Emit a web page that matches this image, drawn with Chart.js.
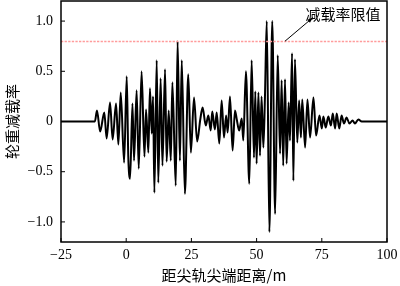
<!DOCTYPE html>
<html>
<head>
<meta charset="utf-8">
<script src="https://cdn.jsdelivr.net/npm/chart.js@4/dist/chart.umd.min.js"></script>
<style>
  html, body { margin: 0; padding: 0; background: #fff; }
  #wrap { width: 400px; height: 286px; }
</style>
</head>
<body>
<div id="wrap"><canvas id="chart" width="400" height="286"></canvas></div>
<script>
// Data
const distance = [
  -25, -12, -11.2, -10.0, -8.4, -7.5, -6.2, -5.2, -3.9, -3.0, -2.1, -0.8, 0.2, 0.8, 1.5,
  2.4, 3.0, 4.0, 4.8, 5.9, 7.0, 7.6, 8.5, 9.1, 9.8, 10.3, 10.8, 11.7, 12.3, 13.2, 13.9,
  14.9, 15.5, 16.3, 17.1, 17.7, 19.0, 19.7, 20.6, 21.3, 22.5, 23.8, 24.8, 26.0, 27.2,
  28.4, 29.3, 30.5, 31.5, 32.4, 33.0, 34.0, 34.7, 35.7, 36.6, 37.5, 38.3, 38.9, 39.8,
  40.8, 41.7, 42.4, 43.3, 44.3, 44.9, 45.9, 47.2, 48.1, 49.0, 49.5, 50.0, 50.7, 51.3,
  51.9, 52.6, 53.2, 53.9, 54.9, 56.0, 57.1, 58.1, 59.0, 59.6, 60.2, 60.9, 61.5, 62.3,
  62.8, 63.6, 64.1, 64.7, 65.6, 66.3, 67.0, 67.5, 68.6, 69.5, 70.5, 71.8, 72.8, 74.1,
  75.0, 75.6, 76.5, 77.5, 78.5, 79.2, 80.1, 80.7, 81.7, 82.6, 83.5, 84.5, 85.6, 86.8,
  87.7, 89.0, 90.3, 100
];
const loadReduction = [
  0, 0, 0.11, -0.10, 0.09, -0.17, 0.19, -0.18, 0.18, -0.23, 0.29, -0.41, 0.45, -0.35, -0.57,
  0.18, -0.39, 0.31, -0.47, 0.50, -0.35, 0.12, -0.31, 0.33, -0.12, 0.25, -0.71, 0.61, -0.61, 0.43, -0.44,
  0.52, -0.40, 0.11, -0.39, 0.39, -0.64, 0.80, -0.39, 0.61, -0.72, 0.47, -0.31, 0.24, -0.20,
  0.02, 0.14, -0.04, 0.06, -0.09, 0.10, -0.08, 0.09, -0.22, 0.21, -0.16, 0.06, -0.11, 0.25,
  -0.29, 0.11, 0.02, -0.09, 0.03, -0.19, 0.50, -0.62, 0.61, -0.36, 0.30, -0.42, 0.29, -0.34,
  0.25, -0.26, 0.24, 1.00, -1.10, 1.00, -0.92, 0.66, -0.32, 0.41, -0.44, 0.42, -0.42, 0.19,
  -0.19, 0.68, -0.59, 0.62, -0.21, 0.21, -0.16, 0.22, -0.26, 0.22, -0.16, 0.24, -0.14, 0.06,
  -0.07, 0.05, -0.06, 0.05, -0.04, 0.08, -0.07, 0.08, -0.07, 0.06, -0.02, 0.04, -0.02, 0.01,
  -0.02, 0.02, 0, 0
];
const limitValue = 0.8;
const limitLabel = '减载率限值';
const xTicks = [-25, 0, 25, 50, 75, 100];
const yTicks = [-1.0, -0.5, 0, 0.5, 1.0];
const xTitle = '距尖轨尖端距离/m';
const yTitle = '轮重减载率';

const serif = '"Liberation Serif", "Noto Sans CJK SC", serif';
const cjk = '"Noto Sans CJK SC", "Liberation Serif", serif';

function fmt(v) {
  const a = Math.abs(v);
  const s = (v === 0) ? '0' : (a >= 10 ? String(a) : a.toFixed(1));
  return (v < 0 ? '\u2212' : '') + s;
}

function noPad(s) {
  s.paddingTop = 0; s.paddingBottom = 0; s.paddingLeft = 0; s.paddingRight = 0;
}

const framePlugin = {
  id: 'frame',
  afterDatasetsDraw(chart) {
    const ctx = chart.ctx;
    const a = chart.chartArea;
    const xs = chart.scales.x, ys = chart.scales.y;
    ctx.save();
    // limit line
    const yl = Math.round(ys.getPixelForValue(limitValue)) + 0.5;
    ctx.strokeStyle = '#ff9c9c';
    ctx.lineWidth = 1.5;
    ctx.setLineDash([2.3, 1.3]);
    ctx.beginPath();
    ctx.moveTo(a.left, yl);
    ctx.lineTo(a.right, yl);
    ctx.stroke();
    ctx.setLineDash([]);
    // frame
    ctx.strokeStyle = '#000';
    ctx.lineWidth = 1.5;
    ctx.strokeRect(a.left, a.top, a.right - a.left, a.bottom - a.top);
    // inward ticks
    ctx.lineWidth = 1;
    xTicks.forEach(v => {
      const px = xs.getPixelForValue(v);
      ctx.beginPath();
      ctx.moveTo(px, a.bottom);
      ctx.lineTo(px, a.bottom - 4);
      ctx.stroke();
    });
    yTicks.forEach(v => {
      const py = ys.getPixelForValue(v);
      ctx.beginPath();
      ctx.moveTo(a.left, py);
      ctx.lineTo(a.left + 4, py);
      ctx.stroke();
    });
    // annotation arrow
    const x0 = xs.getPixelForValue(60.9), y0 = ys.getPixelForValue(0.8);
    const x1 = xs.getPixelForValue(71.6), y1 = ys.getPixelForValue(1.035);
    ctx.beginPath();
    ctx.moveTo(x0, y0);
    ctx.lineTo(x1, y1);
    ctx.stroke();
    const ang = Math.atan2(y1 - y0, x1 - x0);
    ctx.beginPath();
    ctx.moveTo(x1, y1);
    ctx.lineTo(x1 - 6 * Math.cos(ang - 0.35), y1 - 6 * Math.sin(ang - 0.35));
    ctx.lineTo(x1 - 6 * Math.cos(ang + 0.35), y1 - 6 * Math.sin(ang + 0.35));
    ctx.closePath();
    ctx.fillStyle = '#000';
    ctx.fill();
    // label
    ctx.font = '15px ' + cjk;
    ctx.textAlign = 'center';
    ctx.textBaseline = 'middle';
    ctx.fillText(limitLabel, xs.getPixelForValue(83.1), ys.getPixelForValue(1.064));
    ctx.restore();
  }
};

new Chart(document.getElementById('chart'), {
  type: 'line',
  data: {
    datasets: [{
      data: distance.map((d, i) => ({ x: d, y: loadReduction[i] })),
      borderColor: '#000',
      borderWidth: 2,
      pointRadius: 0,
      cubicInterpolationMode: 'monotone',
      fill: false
    }]
  },
  options: {
    responsive: false,
    animation: false,
    devicePixelRatio: 1,
    layout: { padding: { top: 1, right: 13, bottom: 0, left: 0 } },
    plugins: { legend: { display: false }, tooltip: { enabled: false } },
    scales: {
      x: {
        type: 'linear',
        min: -25,
        max: 100,
        afterBuildTicks: s => { s.ticks = xTicks.map(v => ({ value: v })); },
        afterFit: s => { s.height = 44; noPad(s); },
        grid: { display: false, drawTicks: false },
        border: { display: false },
        ticks: {
          color: '#000',
          padding: 5,
          maxRotation: 0,
          font: { family: serif, size: 14 },
          callback: v => fmt(v)
        },
        title: {
          display: true,
          text: xTitle,
          color: '#000',
          font: { family: cjk, size: 15 },
          padding: { top: 0, bottom: 2 }
        }
      },
      y: {
        min: -1.2,
        max: 1.2,
        afterBuildTicks: s => { s.ticks = yTicks.map(v => ({ value: v })); },
        afterFit: s => { s.width = 61; noPad(s); },
        grid: { display: false, drawTicks: false },
        border: { display: false },
        ticks: {
          color: '#000',
          padding: 8,
          font: { family: serif, size: 14 },
          callback: v => fmt(v)
        },
        title: {
          display: true,
          text: yTitle,
          color: '#000',
          font: { family: cjk, size: 15 },
          padding: { top: 3, bottom: 0 }
        }
      }
    }
  },
  plugins: [framePlugin]
});
</script>
</body>
</html>
